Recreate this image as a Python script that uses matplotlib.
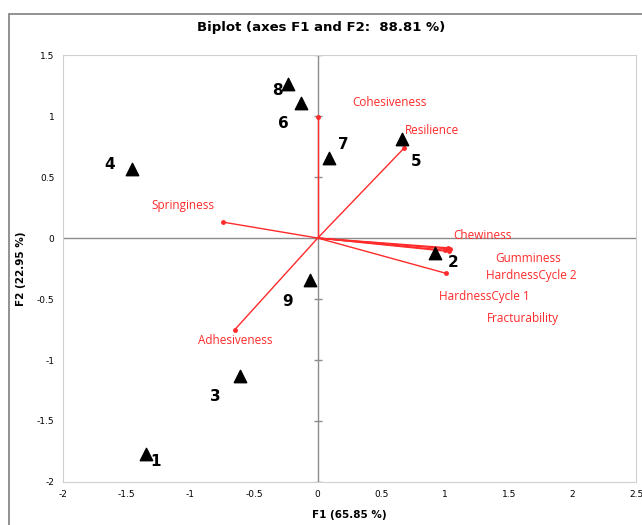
import numpy as np
import matplotlib.pyplot as plt
from matplotlib.patches import Rectangle

# observations (F1, F2)
obs_names = ['1', '2', '3', '4', '5', '6', '7', '8', '9']
obs_f1 = [-1.35, 0.92, -0.61, -1.46, 0.66, -0.13, 0.09, -0.23, -0.06]
obs_f2 = [-1.77, -0.12, -1.13, 0.57, 0.81, 1.11, 0.66, 1.26, -0.34]
# where the number sits relative to its triangle
obs_lab_dx = [0.08, 0.14, -0.19, -0.17, 0.11, -0.14, 0.11, -0.09, -0.18]
obs_lab_dy = [-0.06, -0.08, -0.17, 0.03, -0.18, -0.17, 0.11, -0.05, -0.18]

# variables (loadings)
var_names = ['Cohesiveness', 'Resilience', 'Springiness', 'Adhesiveness', 'Chewiness',
             'Gumminess', 'HardnessCycle 2', 'HardnessCycle 1', 'Fracturability']
var_f1 = [0.0, 0.68, -0.74, -0.65, 1.02, 1.04, 1.00, 1.01, 1.03]
var_f2 = [0.99, 0.74, 0.13, -0.75, -0.08, -0.09, -0.10, -0.29, -0.11]
var_lab_x = [0.56, 0.90, -1.06, -0.65, 1.29, 1.65, 1.68, 1.31, 1.61]
var_lab_y = [1.11, 0.88, 0.27, -0.84, 0.02, -0.17, -0.31, -0.48, -0.66]

xticks = [-2, -1.5, -1, -0.5, 0, 0.5, 1, 1.5, 2, 2.5]
yticks = [-2, -1.5, -1, -0.5, 0, 0.5, 1, 1.5]

red = '#ff2a2a'

fig = plt.figure(figsize=(6.42, 5.25), dpi=100)
ax = fig.add_axes([0.098, 0.082, 0.893, 0.813])

# outer frame like the excel chart area
fig.patches.append(Rectangle((0.014, -0.05), 1.1, 0.973 + 0.05, transform=fig.transFigure,
                             fill=False, edgecolor='#7f7f7f', lw=1.2))

ax.set_xlim(-2, 2.5)
ax.set_ylim(-2, 1.5)
ax.set_xticks(xticks)
ax.set_yticks(yticks)
ax.set_xticklabels([('%g' % t) for t in xticks], fontsize=6.5)
ax.set_yticklabels([('%g' % t) for t in yticks], fontsize=6.5)
ax.tick_params(length=0, pad=6)
for s in ax.spines.values():
    s.set_color('#d0d0d0')

ax.axhline(0, color='#8c8c8c', lw=1, zorder=1)
ax.axvline(0, color='#8c8c8c', lw=1, zorder=1)
# little tick marks on the vertical zero line
ax.plot(np.zeros(len(yticks)), yticks, ls='none', marker='_', ms=6, color='#8c8c8c', zorder=1)

for i, name in enumerate(var_names):
    ax.plot([0, var_f1[i]], [0, var_f2[i]], color=red, lw=1, zorder=2)
    ax.plot(var_f1[i], var_f2[i], 'o', color=red, ms=2.5, zorder=2)
    ax.text(var_lab_x[i], var_lab_y[i], name, color=red, fontsize=8.5,
            ha='center', va='center', family='Open Sans')

ax.scatter(obs_f1, obs_f2, marker='^', s=80, color='black', zorder=3)
for i, name in enumerate(obs_names):
    ax.text(obs_f1[i] + obs_lab_dx[i], obs_f2[i] + obs_lab_dy[i], name, fontsize=11,
            fontweight='bold', ha='center', va='center')

ax.set_xlabel('F1 (65.85 %)', fontsize=7.5, fontweight='bold', labelpad=8)
ax.set_ylabel('F2 (22.95 %)', fontsize=7.5, fontweight='bold', labelpad=8)
fig.text(0.5, 0.948, 'Biplot (axes F1 and F2:  88.81 %)', fontsize=9.5, fontweight='bold',
         ha='center', va='center')

fig.savefig('out.png', dpi=100)
